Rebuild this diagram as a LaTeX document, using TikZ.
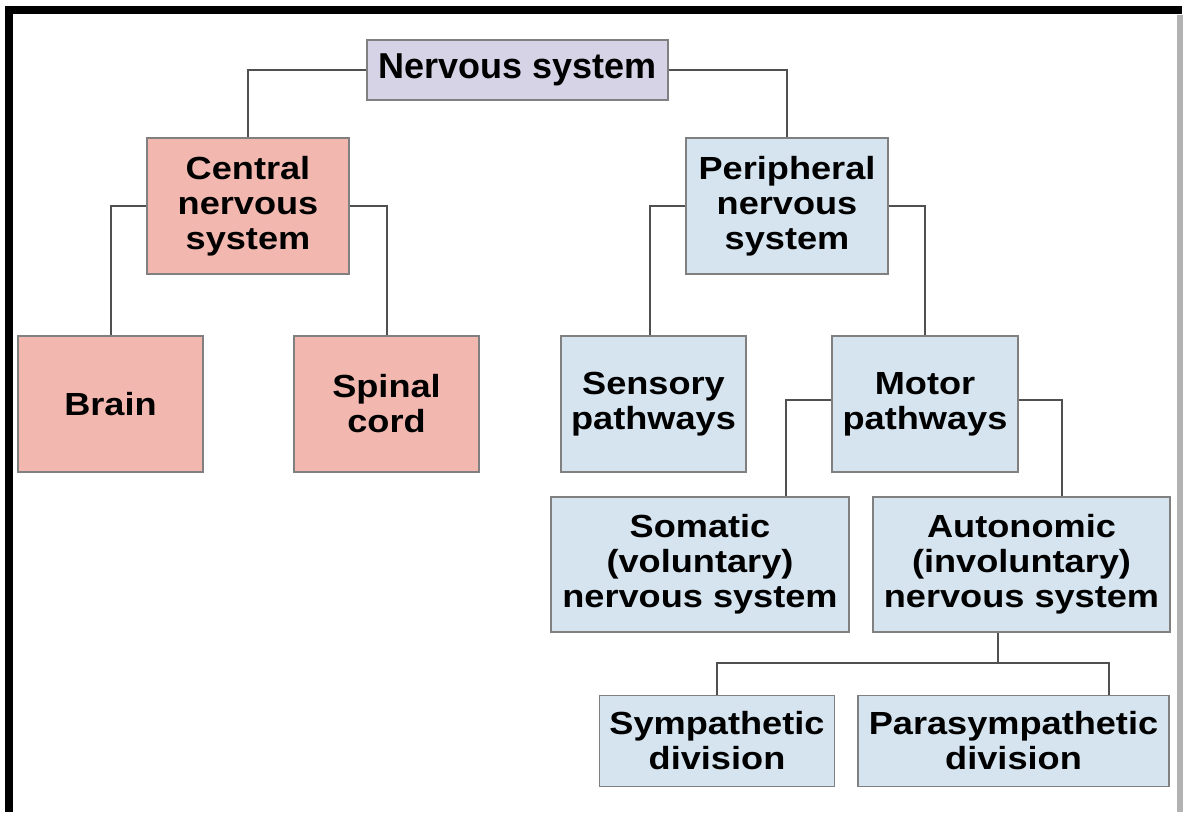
\documentclass[tikz,border=0pt]{standalone}
\usepackage{fontspec}
\setmainfont{Liberation Sans}
\newfontfamily\boxfont{Liberation Sans}[FakeStretch=1.13]
\usetikzlibrary{positioning}

\definecolor{topfill}{RGB}{214,211,230}
\definecolor{cnsfill}{RGB}{242,184,176}
\definecolor{pnsfill}{RGB}{213,228,239}
\definecolor{edgegray}{RGB}{128,128,128}
\definecolor{linkgray}{RGB}{80,80,80}

\tikzset{
  box/.style={draw=edgegray, line width=1.5pt, inner sep=0pt, align=center,
    font=\boxfont\bfseries\fontsize{32}{35}\selectfont},
  topbox/.style={box, fill=topfill, font=\bfseries\fontsize{36}{40}\selectfont},
  cnsbox/.style={box, fill=cnsfill},
  pnsbox/.style={box, fill=pnsfill},
  link/.style={draw=linkgray, line width=2pt},
}

\begin{document}
\begin{tikzpicture}[x=1pt,y=-1pt]
\useasboundingbox (0,0) rectangle (1183,812);

%Frame
\fill (5,6) rectangle (1182,14);
\fill (5,6) rectangle (13,812);
\fill[gray!60] (1177,15) rectangle (1183,812);

%Top
\node[topbox, minimum width=301pt, minimum height=60pt] (ns) at (517.5,70) {Nervous system};

%Central side
\node[cnsbox, minimum width=202pt, minimum height=136pt] (cns) at (248,206) {Central\\nervous\\system};
\node[cnsbox, minimum width=185pt, minimum height=136pt] (brain) at (110.5,404) {Brain};
\node[cnsbox, minimum width=185pt, minimum height=136pt] (spinal) at (386.5,404) {Spinal\\cord};

%Peripheral side
\node[pnsbox, minimum width=202pt, minimum height=136pt] (pns) at (787,206) {Peripheral\\nervous\\system};
\node[pnsbox, minimum width=185pt, minimum height=136pt] (sensory) at (653.5,404) {Sensory\\pathways};
\node[pnsbox, minimum width=186pt, minimum height=136pt] (motor) at (925,404) {Motor\\pathways};
\node[pnsbox, minimum width=298pt, minimum height=135pt] (somatic) at (700,564.5) {Somatic\\(voluntary)\\nervous system};
\node[pnsbox, minimum width=297pt, minimum height=135pt] (autonomic) at (1021.5,564.5) {Autonomic\\(involuntary)\\nervous system};
\node[pnsbox, minimum width=235pt, minimum height=91pt] (symp) at (717,741) {Sympathetic\\division};
\node[pnsbox, minimum width=311pt, minimum height=91pt] (parasymp) at (1013.5,741) {Parasympathetic\\division};

%Connectors
\draw[link] (ns.west) -| (cns.north);
\draw[link] (ns.east) -| (pns.north);
\draw[link] (cns.west) -| (brain.north);
\draw[link] (cns.east) -| (spinal.north);
\draw[link] (pns.west) -| ([xshift=-3.5pt]sensory.north);
\draw[link] (pns.east) -| (motor.north);
\draw[link] ([yshift=4pt]motor.west) -| ([xshift=86pt]somatic.north);
\draw[link] ([yshift=4pt]motor.east) -| ([xshift=40.5pt]autonomic.north);
\coordinate (split) at (998,663);
\draw[link] (autonomic.south -| split) -- (split);
\draw[link] (symp.north) |- (split) -| ([xshift=95.5pt]parasymp.north);

\end{tikzpicture}
\end{document}
